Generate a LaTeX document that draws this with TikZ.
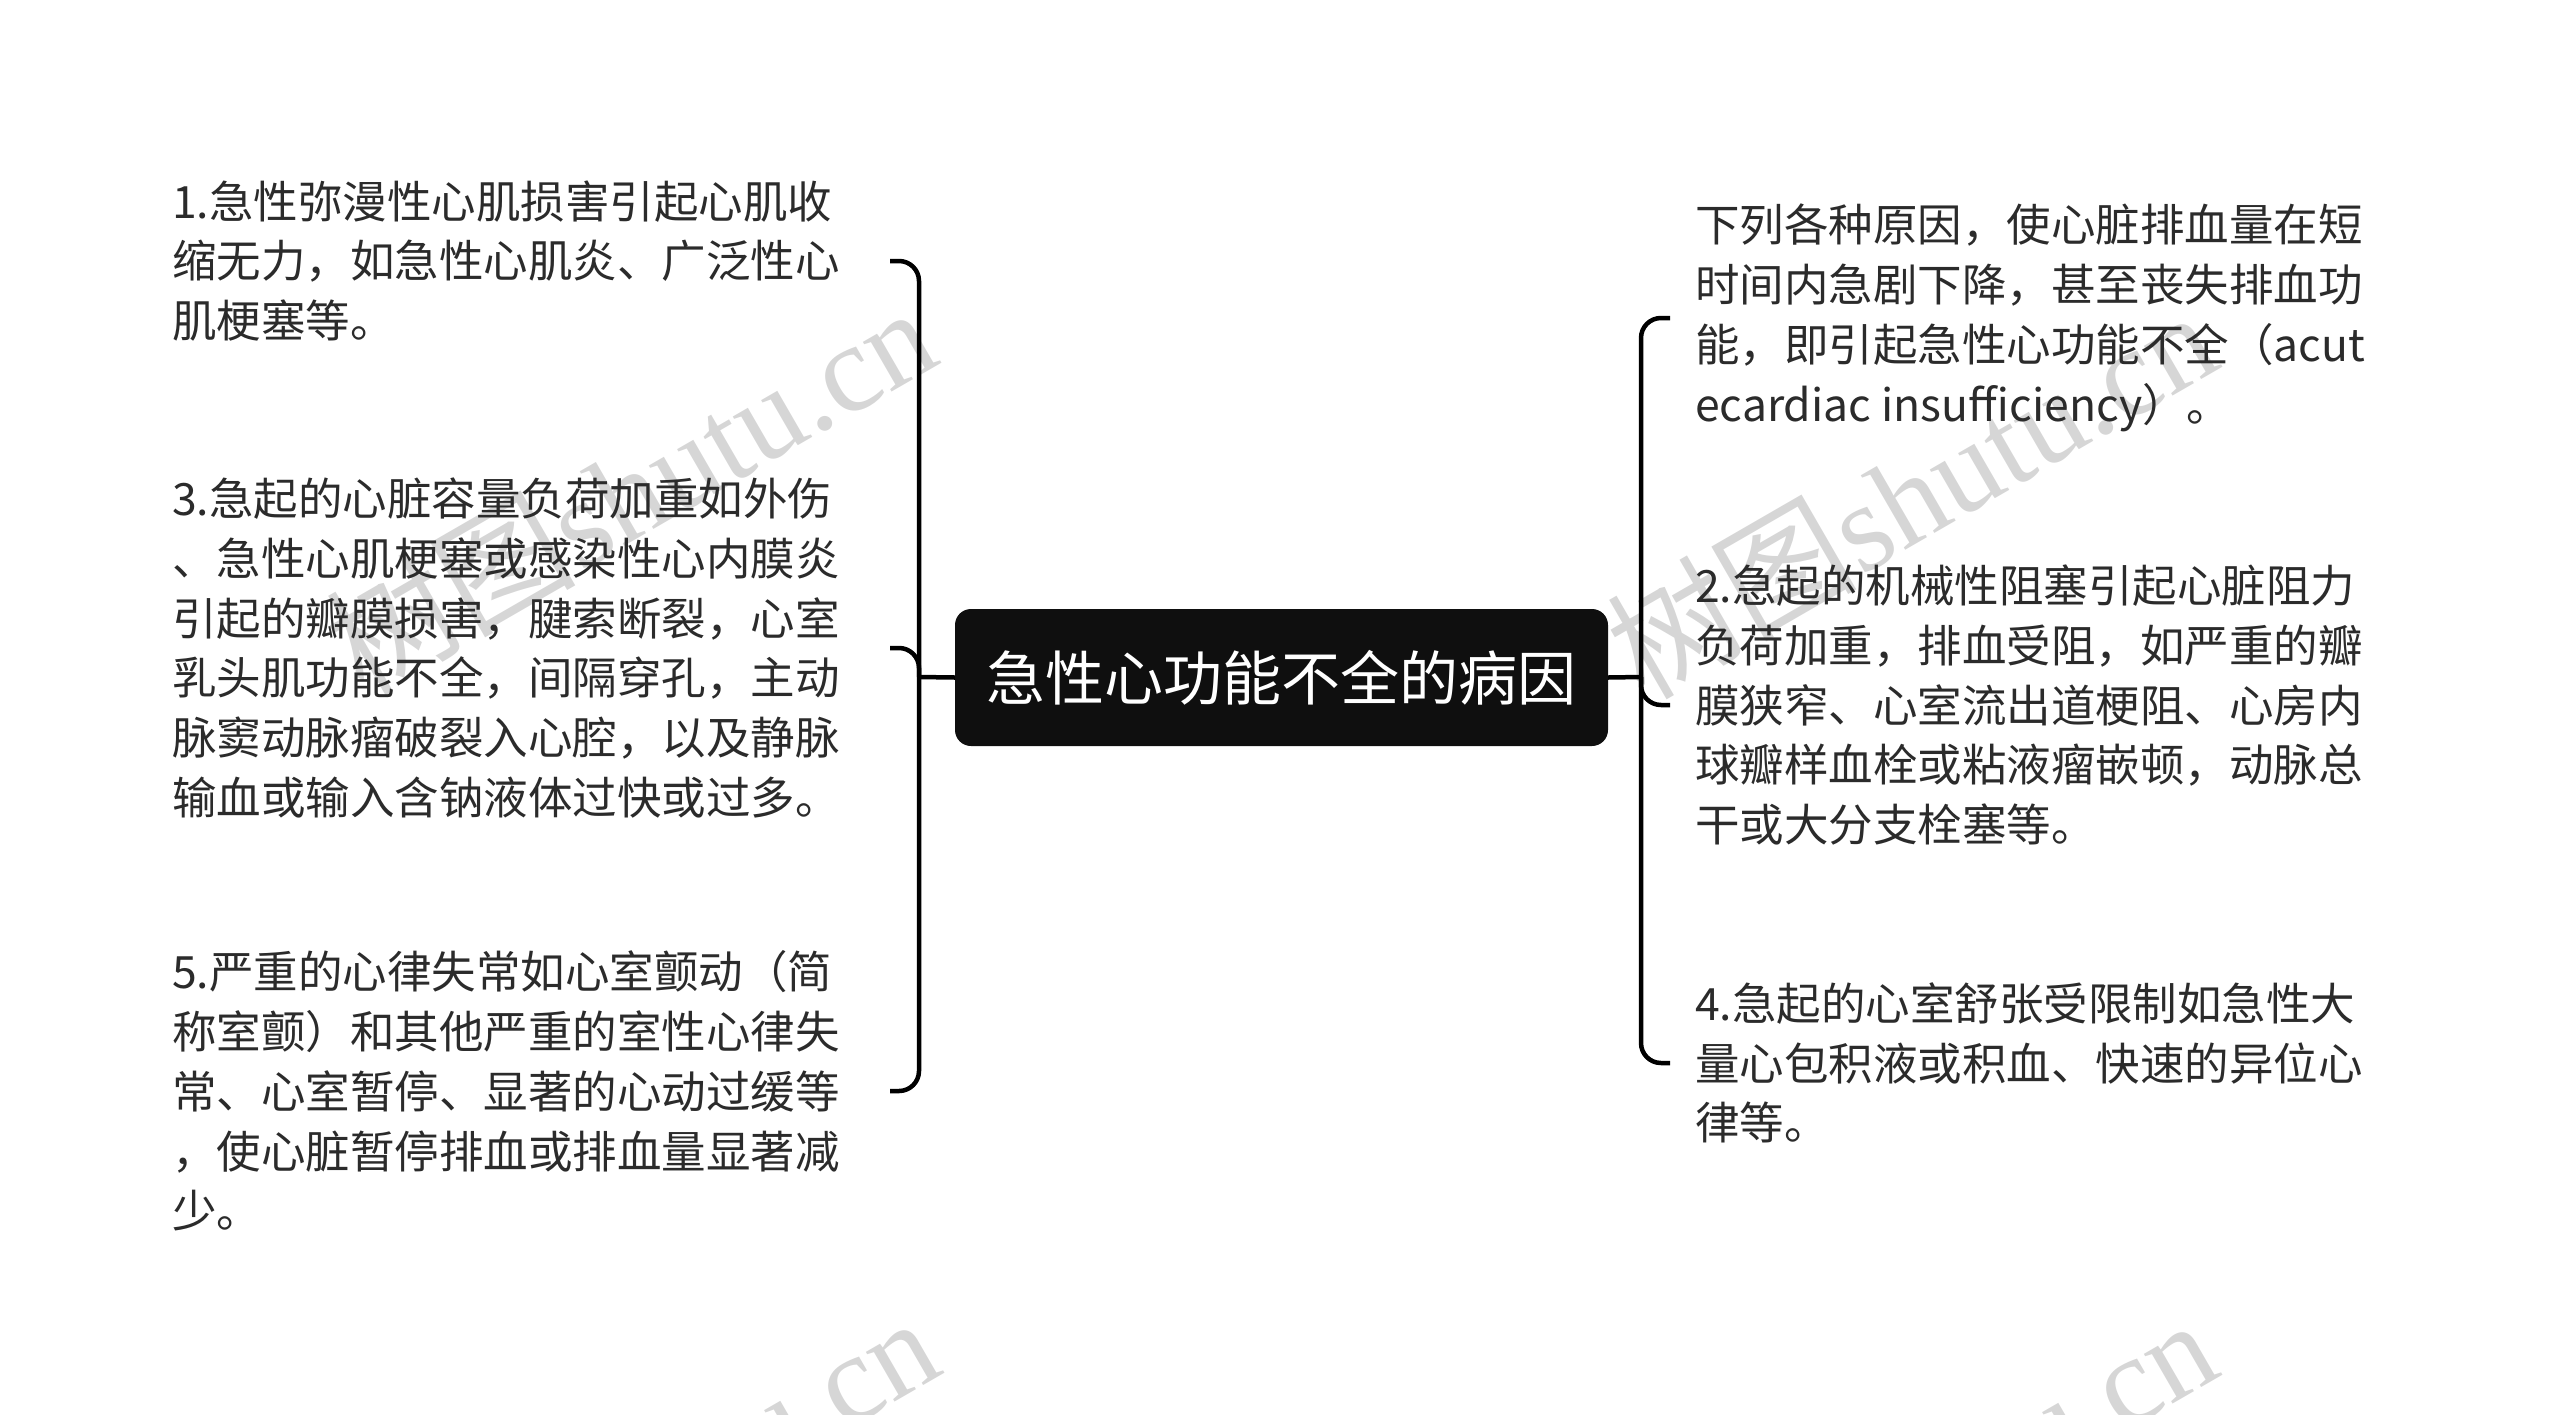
\documentclass[tikz,border=0pt]{standalone}
\usepackage{fontspec}
\setmainfont{Noto Sans CJK SC}
\newfontfamily\wmlatin{Liberation Serif}
\definecolor{txt}{HTML}{2B2B2B}
\definecolor{wm}{HTML}{D6D6D6}
\definecolor{rootfill}{HTML}{0F0F0F}
\tikzset{
  leaf/.style={anchor=west, align=left, inner sep=0pt, text=txt,
    font=\fontsize{44.5}{59.8}\selectfont},
  rootbox/.style={fill=rootfill, rounded corners=16pt, minimum width=653pt,
    minimum height=137pt, text=white, inner sep=0pt,
    font=\fontsize{59}{70}\selectfont},
  conn/.style={draw=black, line width=4.5pt, rounded corners=20pt},
  wmark/.style={text=wm, rotate=30, anchor=base east, inner sep=0pt,
    font=\fontsize{125}{125}\selectfont}
}
\begin{document}
\begin{tikzpicture}[x=1pt,y=-1pt]
\useasboundingbox (0,0) rectangle (2560,1414);
% watermarks
\begin{scope}
\clip (0,0) rectangle (2560,1414);
\node[wmark] (wm1) at (944,362) {树图{\wmlatin shutu.cn}};
\node[wmark] (wm2) at (2225,366) {树图{\wmlatin shutu.cn}};
\node[wmark] (wm3) at (947,1372) {树图{\wmlatin shutu.cn}};
\node[wmark] (wm4) at (2225,1374) {树图{\wmlatin shutu.cn}};
\end{scope}
% root
\node[rootbox] (root) at (1281.5,677.5) {急性心功能不全的病因};
% left leaves
\node[leaf] (l1) at (172,261) {1.急性弥漫性心肌损害引起心肌收\\缩无力，如急性心肌炎、广泛性心\\肌梗塞等。};
\node[leaf] (l3) at (172,648) {3.急起的心脏容量负荷加重如外伤\\、急性心肌梗塞或感染性心内膜炎\\引起的瓣膜损害，腱索断裂，心室\\乳头肌功能不全，间隔穿孔，主动\\脉窦动脉瘤破裂入心腔，以及静脉\\输血或输入含钠液体过快或过多。};
\node[leaf] (l5) at (172,1091) {5.严重的心律失常如心室颤动（简\\称室颤）和其他严重的室性心律失\\常、心室暂停、显著的心动过缓等\\，使心脏暂停排血或排血量显著减\\少。};
% right leaves
\node[leaf] (r1) at (1695,318) {下列各种原因，使心脏排血量在短\\时间内急剧下降，甚至丧失排血功\\能，即引起急性心功能不全（acut\\ecardiac insufficiency）。};
\node[leaf] (r2) at (1695,705) {2.急起的机械性阻塞引起心脏阻力\\负荷加重，排血受阻，如严重的瓣\\膜狭窄、心室流出道梗阻、心房内\\球瓣样血栓或粘液瘤嵌顿，动脉总\\干或大分支栓塞等。};
\node[leaf] (r4) at (1695,1063) {4.急起的心室舒张受限制如急性大\\量心包积液或积血、快速的异位心\\律等。};
% bracket coordinates
\coordinate (lsp) at (919,677);
\coordinate (rsp) at (1641,677);
\coordinate (l1s) at (890,261);
\coordinate (l3s) at (890,648);
\coordinate (l5s) at (890,1091);
\coordinate (r1s) at (1670,318);
\coordinate (r2s) at (1670,705);
\coordinate (r4s) at (1670,1063);
% left bracket
\draw[conn] (l1s) -- (lsp |- l1s) -- (lsp |- l5s) -- (l5s);
\draw[conn] (l3s) -- (lsp |- l3s) -- (lsp);
\draw[conn, rounded corners=0pt] (lsp) -- (root.west);
% right bracket
\draw[conn] (r1s) -- (rsp |- r1s) -- (rsp |- r4s) -- (r4s);
\draw[conn] (rsp) -- (rsp |- r2s) -- (r2s);
\draw[conn, rounded corners=0pt] (root.east) -- (rsp);
\end{tikzpicture}
\end{document}
